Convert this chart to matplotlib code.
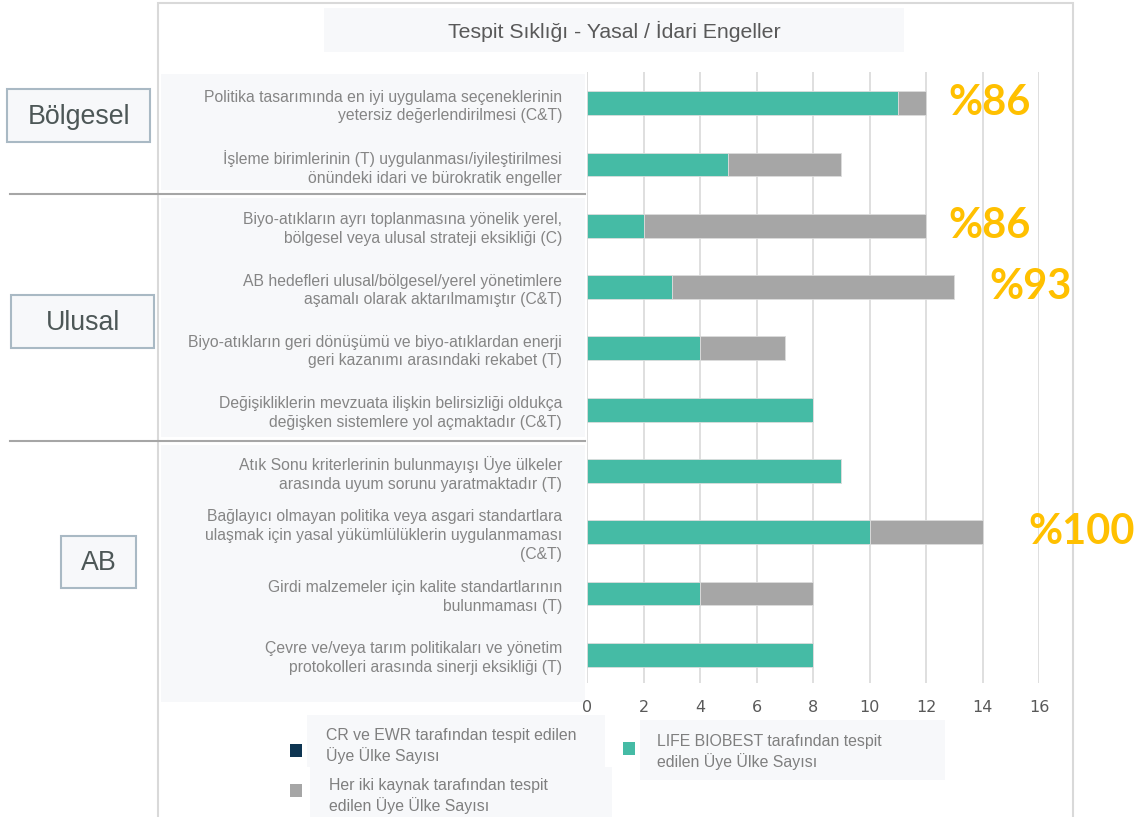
import numpy as np
import matplotlib
matplotlib.use("Agg")
import matplotlib.pyplot as plt
from matplotlib.patches import Rectangle

# data
categories = [
    "Politika tasarımında en iyi uygulama seçeneklerinin\nyetersiz değerlendirilmesi (C&T)",
    "İşleme birimlerinin (T) uygulanması/iyileştirilmesi\nönündeki idari ve bürokratik engeller",
    "Biyo-atıkların ayrı toplanmasına yönelik yerel,\nbölgesel veya ulusal strateji eksikliği (C)",
    "AB hedefleri ulusal/bölgesel/yerel yönetimlere\naşamalı olarak aktarılmamıştır (C&T)",
    "Biyo-atıkların geri dönüşümü ve biyo-atıklardan enerji\ngeri kazanımı arasındaki rekabet (T)",
    "Değişikliklerin mevzuata ilişkin belirsizliği oldukça\ndeğişken sistemlere yol açmaktadır (C&T)",
    "Atık Sonu kriterlerinin bulunmayışı Üye ülkeler\narasında uyum sorunu yaratmaktadır (T)",
    "Bağlayıcı olmayan politika veya asgari standartlara\nulaşmak için yasal yükümlülüklerin uygulanmaması\n(C&T)",
    "Girdi malzemeler için kalite standartlarının\nbulunmaması (T)",
    "Çevre ve/veya tarım politikaları ve yönetim\nprotokolleri arasında sinerji eksikliği (T)",
]
cr_ewr = [0, 0, 0, 0, 0, 0, 0, 0, 0, 0]
life_biobest = [11, 5, 2, 3, 4, 8, 9, 10, 4, 8]
both_sources = [1, 4, 10, 10, 3, 0, 0, 4, 4, 0]

pct_rows = [0, 2, 3, 7]
pct_labels = ["%86", "%86", "%93", "%100"]

groups = ["Bölgesel", "Ulusal", "AB"]
title = "Tespit Sıklığı - Yasal / İdari Engeller"
legend_labels = ["CR ve EWR tarafından tespit edilen\nÜye Ülke Sayısı",
                 "LIFE BIOBEST tarafından tespit\nedilen Üye Ülke Sayısı",
                 "Her iki kaynak tarafından tespit\nedilen Üye Ülke Sayısı"]

NAVY = "#0e3552"
TEAL = "#45bba5"
GREY = "#a6a6a6"
GOLD = "#ffc000"
PANEL = "#f7f8fa"

W, H = 1138, 817
fig = plt.figure(figsize=(W / 100, H / 100), dpi=100)
fig.patch.set_facecolor("white")


def box(x0, y0, x1, y1, **kw):
    # rectangle in pixel coords (y from top)
    r = Rectangle((x0 / W, 1 - y1 / H), (x1 - x0) / W, (y1 - y0) / H,
                  transform=fig.transFigure, **kw)
    fig.add_artist(r)
    return r


def ftext(x, y, s, **kw):
    fig.text(x / W, 1 - y / H, s, **kw)


# chart frame, title box, label panels
box(158, 3, 1073, 830, facecolor="none", edgecolor="#d9d9d9", lw=1.5, zorder=-2)
box(324, 8, 904, 52, facecolor=PANEL, edgecolor="none", zorder=-1)
ftext(614, 31, title, ha="center", va="center", fontsize=15.3, color="#595959",
      family="Liberation Sans")
for y0, y1 in [(74, 190), (198, 437), (445, 702)]:
    box(161, y0, 585, y1, facecolor=PANEL, edgecolor="none", zorder=-1)

# separators between groups
for y in [194, 441]:
    fig.add_artist(plt.Line2D([10 / W, 585 / W], [1 - y / H, 1 - y / H],
                              transform=fig.transFigure, color="#a6a6a6", lw=1.5))

# group label boxes
for name, (x0, y0, x1, y1) in zip(groups, [(7, 89, 150, 142), (11, 295, 154, 348),
                                          (61, 536, 136, 588)]):
    box(x0, y0, x1, y1, facecolor=PANEL, edgecolor="#a9b9c4", lw=1.5)
    ftext((x0 + x1) / 2, (y0 + y1) / 2 + 1, name, ha="center", va="center",
          fontsize=19.3, color="#4d5757", family="Liberation Sans")

# main axes
ax = fig.add_axes([587 / W, 1 - 683 / H, (1039 - 587) / W, (683 - 72) / H])
ax.patch.set_visible(False)
y = np.arange(len(categories))
ax.barh(y, cr_ewr, height=0.39, color=NAVY, zorder=3)
ax.barh(y, life_biobest, left=cr_ewr, height=0.39, color=TEAL,
        edgecolor="#dcdcdc", lw=0.6, zorder=3)
ax.barh(y, both_sources, left=np.add(cr_ewr, life_biobest), height=0.39,
        color=GREY, edgecolor="#dcdcdc", lw=0.6, zorder=3)

ax.set_xlim(0, 16)
ax.set_ylim(9.46, -0.51)
ax.set_xticks(range(0, 17, 2))
ax.grid(axis="x", color="#d9d9d9", lw=1.2, zorder=0)
ax.set_axisbelow(True)
for s in ax.spines.values():
    s.set_visible(False)
ax.tick_params(axis="both", length=0)
ax.tick_params(axis="x", pad=12, labelsize=11.5, labelcolor="#595959")
ax.set_yticks(y)
ax.set_yticklabels(categories, fontsize=11.3, color="#858585",
                   family="Liberation Sans", linespacing=1.3)
ax.tick_params(axis="y", pad=18)

# percent callouts
totals = np.add(np.add(cr_ewr, life_biobest), both_sources)
pct_offsets = [16, 16, 25, 33]
for row, lab, off in zip(pct_rows, pct_labels, pct_offsets):
    ax.annotate(lab, xy=(totals[row], row), xytext=(off, 0),
                textcoords="offset points", ha="left", va="center",
                fontsize=30, color=GOLD, family="Lato", fontweight="bold",
                annotation_clip=False)

# legend
box(307, 715, 605, 767, facecolor=PANEL, edgecolor="none")
box(310, 767, 612, 830, facecolor=PANEL, edgecolor="none")
box(640, 720, 945, 780, facecolor=PANEL, edgecolor="none")
box(290, 744, 302, 757, facecolor=NAVY, edgecolor="none")
box(290, 784, 302, 797, facecolor=GREY, edgecolor="none")
box(623, 742, 635, 755, facecolor=TEAL, edgecolor="none")
ftext(326, 746, legend_labels[0], ha="left", va="center", fontsize=11.4,
      color="#7f7f7f", family="Liberation Sans", linespacing=1.25)
ftext(657, 752, legend_labels[1], ha="left", va="center", fontsize=11.4,
      color="#7f7f7f", family="Liberation Sans", linespacing=1.25)
ftext(329, 796, legend_labels[2], ha="left", va="center", fontsize=11.4,
      color="#7f7f7f", family="Liberation Sans", linespacing=1.25)

fig.savefig("out.png", dpi=100)
